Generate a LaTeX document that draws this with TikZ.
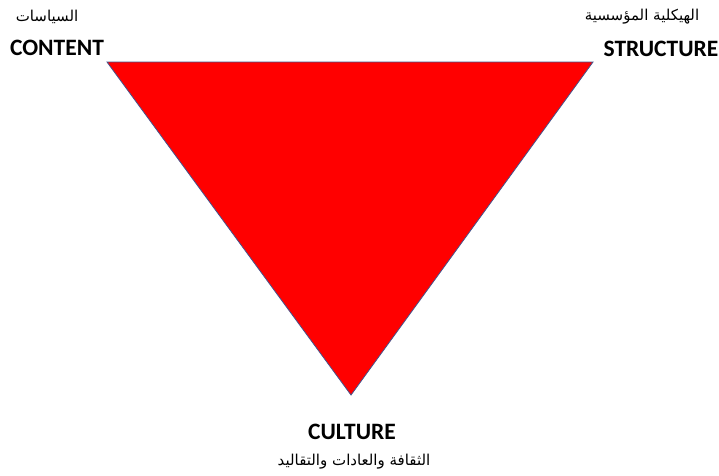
\documentclass[tikz,border=0pt]{standalone}
\usepackage{fontspec}
\setmainfont{Carlito}
\newfontfamily\arabicfont[Script=Arabic]{DejaVu Sans}
\TeXXeTstate=1
\usepackage{xcolor}
\usepackage{tikz}
\usetikzlibrary{positioning}
\definecolor{trifill}{RGB}{255, 0, 0}
\definecolor{triedge}{RGB}{68, 84, 140}

\begin{document}
\begin{tikzpicture}[x=1pt, y=-1pt,
	corner/.style={font=\fontsize{23.5}{26}\selectfont\bfseries, inner sep=0pt},
	arabic/.style={font=\fontsize{15}{17}\selectfont\arabicfont, inner sep=0pt}]
	\useasboundingbox (0,0) rectangle (719,475);
	% triangle
	\coordinate (tl) at (107,62);
	\coordinate (tr) at (593,62);
	\coordinate (bt) at (351,395);
	\filldraw[fill=trifill, draw=triedge, line width=0.8pt, line join=miter] (tl) -- (tr) -- (bt) -- cycle;
	% labels
	\node[corner] (content) at (57,48) {CONTENT};
	\node[arabic] (contentar) at (47,17) {\beginR السياسات\endR};
	\node[corner] (structure) at (661,49) {STRUCTURE};
	\node[arabic] (structurear) at (642,17) {\beginR الهيكلية المؤسسية\endR};
	\node[corner] (culture) at (352,432) {CULTURE};
	\node[arabic] (culturear) at (354,462) {\beginR الثقافة والعادات والتقاليد\endR};
\end{tikzpicture}
\end{document}
